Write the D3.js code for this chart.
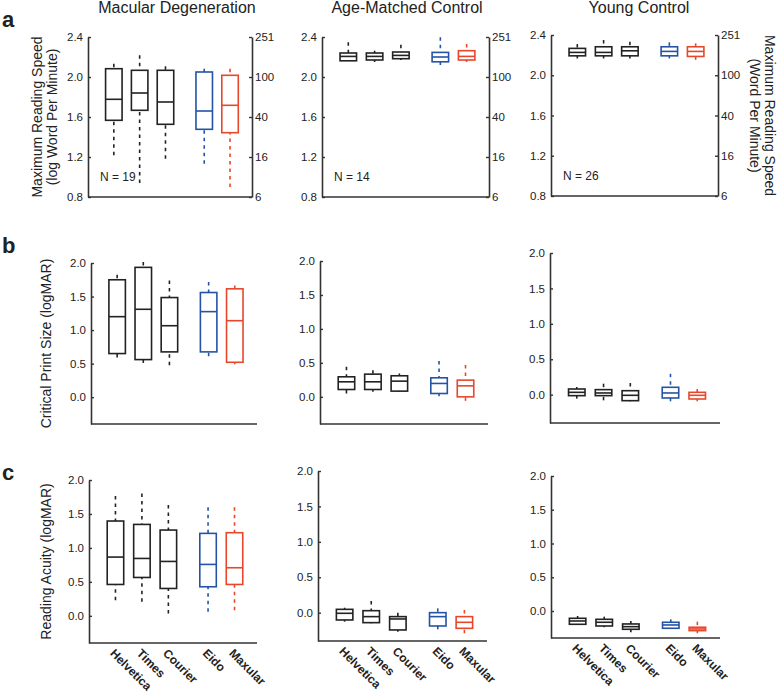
<!DOCTYPE html>
<html><head><meta charset="utf-8">
<script src="https://cdn.jsdelivr.net/npm/d3@7"></script>
<style>
body{margin:0;background:#fff;}
svg text{font-family:Arial,"Liberation Sans",Helvetica,sans-serif;fill:#222;}
</style>
</head><body>
<svg id="chart" width="777" height="693"></svg>
<script>
// ---------- data ----------
const fonts = ["Helvetica", "Times", "Courier", "Eido", "Maxular"];
const fontPos = [1, 2, 3, 4.5, 5.5];
const fontColors = ["#222222", "#222222", "#222222", "#2553a5", "#e8472b"];
const groups = ["Macular Degeneration", "Age-Matched Control", "Young Control"];
const groupN = [19, 14, 26];

const speedTicks = [0.8, 1.2, 1.6, 2.0, 2.4];
const speedRightLabels = ["6", "16", "40", "100", "251"];
const logmarTicks = [0.0, 0.5, 1.0, 1.5, 2.0];

// each box: [lower whisker, Q1, median, Q3, upper whisker]
const speedMD = [[1.217,1.567,1.777,2.083,2.133],[0.94,1.667,1.84,2.067,2.217],[1.183,1.527,1.75,2.067,2.107],[1.133,1.477,1.66,2.05,2.083],[0.90,1.443,1.717,2.017,2.083]];
const speedAM = [[2.162,2.162,2.206,2.24,2.347],[2.15,2.17,2.206,2.24,2.263],[2.17,2.183,2.216,2.25,2.323],[2.12,2.152,2.2,2.246,2.397],[2.15,2.17,2.206,2.263,2.33]];
const speedYC = [[2.167,2.193,2.227,2.267,2.31],[2.167,2.193,2.227,2.283,2.35],[2.167,2.193,2.243,2.283,2.333],[2.167,2.193,2.237,2.283,2.327],[2.153,2.187,2.237,2.283,2.317]];

const cpsMD = [[0.59,0.65,1.2,1.75,1.825],[0.51,0.56,1.31,1.935,2.015],[0.475,0.675,1.065,1.485,1.74],[0.61,0.675,1.275,1.56,1.715],[0.49,0.52,1.14,1.615,1.665]];
const cpsAM = [[0.049,0.108,0.221,0.295,0.442],[0.074,0.108,0.221,0.334,0.393],[0.074,0.084,0.231,0.31,0.344],[0.01,0.049,0.197,0.28,0.526],[-0.059,0.0,0.162,0.246,0.467]];
const cpsYC = [[-0.056,-0.014,0.033,0.08,0.108],[-0.08,-0.014,0.024,0.071,0.155],[-0.094,-0.085,-0.009,0.056,0.165],[-0.094,-0.047,0.024,0.104,0.296],[-0.094,-0.061,-0.009,0.033,0.08]];

const raMD = [[0.231,0.462,0.865,1.396,1.764],[0.206,0.565,0.845,1.346,1.803],[0.034,0.403,0.801,1.263,1.631],[0.059,0.428,0.757,1.214,1.597],[0.084,0.462,0.708,1.224,1.597]];
const raAM = [[-0.127,-0.103,-0.009,0.047,0.07],[-0.15,-0.141,-0.056,0.028,0.164],[-0.268,-0.244,-0.089,-0.056,0.0],[-0.235,-0.188,-0.056,0.0,0.061],[-0.291,-0.221,-0.136,-0.056,0.038]];
const raYC = [[-0.197,-0.197,-0.148,-0.108,-0.074],[-0.241,-0.222,-0.167,-0.123,-0.084],[-0.315,-0.271,-0.232,-0.192,-0.148],[-0.256,-0.256,-0.207,-0.167,-0.123],[-0.33,-0.291,-0.266,-0.241,-0.158]];

// ---------- layout ----------
const rows = [
  {letter:"a", data:[speedMD, speedAM, speedYC], domain:[0.8, 2.4], ticks:speedTicks, right:true,
   panels:[{x0:88,x1:252,yT:37,yB:197},{x0:322,x1:489,yT:37,yB:197},{x0:551,x1:718,yT:35,yB:196}],
   letterY:27, yLabel:["Maximum Reading Speed","(log Word Per Minute)"]},
  {letter:"b", data:[cpsMD, cpsAM, cpsYC], domain:[-0.4, 2.0], ticks:logmarTicks, right:false,
   panels:[{x0:91,x1:257,yT:263,yB:424},{x0:320,x1:488,yT:261,yB:424},{x0:550,x1:720,yT:253,yB:423}],
   letterY:253, yLabel:["Critical Print Size (logMAR)"]},
  {letter:"c", data:[raMD, raAM, raYC], domain:[-0.4, 2.0], ticks:logmarTicks, right:false,
   panels:[{x0:89,x1:257,yT:480,yB:643},{x0:318,x1:487,yT:471,yB:641},{x0:551,x1:720,yT:476,yB:638}],
   letterY:480, yLabel:["Reading Acuity (logMAR)"], xLabels:true}
];
const titleX = [177, 407, 639];
const axisColor = "#333";

const svg = d3.select("#chart");

// column titles
groups.forEach((g, i) => {
  svg.append("text").attr("x", titleX[i]).attr("y", 13).attr("text-anchor", "middle")
    .style("font-size", "16px").text(g);
});

rows.forEach((row, ri) => {
  svg.append("text").attr("x", 2).attr("y", row.letterY)
    .style("font-size", "22px").style("font-weight", "bold").text(row.letter);

  row.panels.forEach((p, ci) => {
    const g = svg.append("g");
    const x = d3.scaleLinear().domain([0, 6.35]).range([p.x0, p.x1]);
    const y = d3.scaleLinear().domain(row.domain).range([p.yB, p.yT]);

    // left axis
    const la = g.append("g").attr("transform", `translate(${p.x0},0)`)
      .call(d3.axisLeft(y).tickValues(row.ticks).tickFormat(d3.format(".1f"))
        .tickSizeInner(-3).tickSizeOuter(0).tickPadding(5));
    // right axis (row a)
    let ra = null;
    if (row.right) {
      ra = g.append("g").attr("transform", `translate(${p.x1},0)`)
        .call(d3.axisRight(y).tickValues(row.ticks).tickFormat((d, i) => speedRightLabels[i])
          .tickSizeInner(-3).tickSizeOuter(0).tickPadding(3));
    }
    [la, ra].forEach(a => {
      if (!a) return;
      a.select(".domain").attr("stroke", axisColor).attr("stroke-width", 1.6);
      a.selectAll(".tick line").attr("stroke", axisColor).attr("stroke-width", 1.4);
      a.selectAll(".tick text").style("font-size", "11.5px").attr("fill", "#222")
        .style("font-family", "Arial, 'Liberation Sans', sans-serif");
    });
    // bottom axis line
    g.append("line").attr("x1", p.x0).attr("x2", p.x1).attr("y1", p.yB).attr("y2", p.yB)
      .attr("stroke", axisColor).attr("stroke-width", 1.6);

    // boxes
    const bw = 16.5;
    row.data[ci].forEach((b, k) => {
      const cx = x(fontPos[k]);
      const col = fontColors[k];
      const bg = g.append("g");
      bg.append("line").attr("x1", cx).attr("x2", cx).attr("y1", y(b[0])).attr("y2", y(b[1]))
        .attr("stroke", col).attr("stroke-width", 1.6).attr("stroke-dasharray", "3.5,4");
      bg.append("line").attr("x1", cx).attr("x2", cx).attr("y1", y(b[4])).attr("y2", y(b[3]))
        .attr("stroke", col).attr("stroke-width", 1.6).attr("stroke-dasharray", "3.5,4");
      bg.append("rect").attr("x", cx - bw / 2).attr("width", bw)
        .attr("y", y(b[3])).attr("height", y(b[1]) - y(b[3]))
        .attr("fill", "none").attr("stroke", col).attr("stroke-width", 1.6);
      bg.append("line").attr("x1", cx - bw / 2).attr("x2", cx + bw / 2).attr("y1", y(b[2])).attr("y2", y(b[2]))
        .attr("stroke", col).attr("stroke-width", 1.6);
    });

    // N label (row a)
    if (row.right) {
      g.append("text").attr("x", p.x0 + 12).attr("y", p.yB - 16)
        .style("font-size", "12px").text("N = " + groupN[ci]);
    }

    // x labels (row c)
    if (row.xLabels) {
      fonts.forEach((f, k) => {
        const tx = x(fontPos[k]) - 6, ty = p.yB + 11;
        g.append("text").attr("transform", `translate(${tx},${ty}) rotate(45)`)
          .style("font-size", "12px").style("font-weight", "bold").text(f);
      });
    }

    // y labels
    if (ci === 0) {
      const cy = (p.yT + p.yB) / 2;
      const lab = g.append("text").attr("transform", `translate(${row.yLabel.length > 1 ? 42 : 51},${cy}) rotate(-90)`)
        .attr("text-anchor", "middle").style("font-size", "14px");
      row.yLabel.forEach((t, i) => lab.append("tspan").attr("x", 0).attr("dy", i === 0 ? 0 : 15).text(t));
    }
    if (row.right && ci === 2) {
      const cy = (p.yT + p.yB) / 2;
      const lab = g.append("text").attr("transform", `translate(${765},${cy}) rotate(90)`)
        .attr("text-anchor", "middle").style("font-size", "14px");
      ["Maximum Reading Speed", "(Word Per Minute)"].forEach((t, i) =>
        lab.append("tspan").attr("x", 0).attr("dy", i === 0 ? 0 : 15).text(t));
    }
  });
});
</script>
</body></html>
